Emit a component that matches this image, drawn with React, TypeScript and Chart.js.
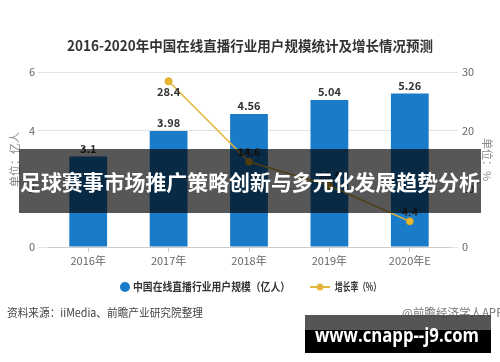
import React, { useEffect, useRef } from "react";
import { Chart, registerables } from "chart.js";

Chart.register(...registerables);

const title = "2016-2020年中国在线直播行业用户规模统计及增长情况预测";
const categories = ["2016年", "2017年", "2018年", "2019年", "2020年E"];
const userScale = [3.1, 3.98, 4.56, 5.04, 5.26];
const growthRate: (number | null)[] = [null, 28.4, 14.6, 10.5, 4.4];
const leftAxis = { min: 0, max: 6, step: 2, title: "单位：亿人" };
const rightAxis = { min: 0, max: 30, step: 10, title: "单位：%" };
const barLabel = "中国在线直播行业用户规模（亿人）";
const lineLabel = "增长率（%）";
const bannerText = "足球赛事市场推广策略创新与多元化发展趋势分析";
const sourceText = "资料来源：iiMedia、前瞻产业研究院整理";
const creditText = "@前瞻经济学人APP";
const watermarkText = "www.cnapp--j9.com";

const FONT = "'Noto Sans CJK SC', 'Noto Sans', sans-serif";
const BAR_COLOR = "#1a7bc8";
const LINE_COLOR = "#e3b63b";

const overlayPlugin = {
  id: "overlay",
  afterDatasetsDraw(chart: any) {
    const ctx = chart.ctx;
    ctx.save();
    // bar labels
    const barMeta = chart.getDatasetMeta(0);
    ctx.fillStyle = "#333";
    ctx.font = `bold 11px ${FONT}`;
    ctx.textAlign = "center";
    ctx.textBaseline = "middle";
    barMeta.data.forEach((el: any, i: number) => {
      ctx.fillText(String(userScale[i]), el.x, el.y - 8);
    });
    // line labels
    const lineMeta = chart.getDatasetMeta(1);
    lineMeta.data.forEach((el: any, i: number) => {
      const v = growthRate[i];
      if (v == null) return;
      const dy = i === 1 ? 10 : -10;
      ctx.fillText(String(v), el.x, el.y + dy);
    });
    ctx.restore();
  },
  afterDraw(chart: any) {
    const ctx = chart.ctx;
    const area = chart.chartArea;
    ctx.save();
    // title
    ctx.fillStyle = "#333";
    ctx.font = `bold 14px ${FONT}`;
    ctx.textAlign = "center";
    ctx.textBaseline = "middle";
    ctx.fillText(title, 250, 46, 366);

    // axis titles
    const midY = (area.top + area.bottom) / 2;
    ctx.fillStyle = "#888";
    ctx.font = `11px ${FONT}`;
    ctx.save();
    ctx.translate(15, midY);
    ctx.rotate(-Math.PI / 2);
    ctx.fillText(leftAxis.title, 0, 0);
    ctx.restore();
    ctx.save();
    ctx.translate(487, midY);
    ctx.rotate(Math.PI / 2);
    ctx.fillText(rightAxis.title, 0, 0);
    ctx.restore();

    // legend
    const ly = 287;
    ctx.fillStyle = BAR_COLOR;
    ctx.beginPath();
    ctx.arc(125, ly, 5, 0, Math.PI * 2);
    ctx.fill();
    ctx.fillStyle = "#333";
    ctx.font = `bold 11px ${FONT}`;
    ctx.textAlign = "left";
    ctx.fillText(barLabel, 133, ly, 157);
    ctx.strokeStyle = LINE_COLOR;
    ctx.lineWidth = 2;
    ctx.beginPath();
    ctx.moveTo(310, ly);
    ctx.lineTo(330, ly);
    ctx.stroke();
    ctx.fillStyle = LINE_COLOR;
    ctx.beginPath();
    ctx.arc(320, ly, 3.5, 0, Math.PI * 2);
    ctx.fill();
    ctx.fillStyle = "#333";
    ctx.fillText(lineLabel, 335, ly, 46);

    // source
    ctx.fillStyle = "#444";
    ctx.font = `11.5px ${FONT}`;
    ctx.fillText(sourceText, 7, 313, 196);
    ctx.fillStyle = "#777";
    ctx.fillText(creditText, 402, 313);

    // banner
    ctx.fillStyle = "rgba(0,0,0,0.66)";
    ctx.fillRect(19, 149, 462, 64);
    ctx.fillStyle = "#fff";
    ctx.font = `bold 21px ${FONT}`;
    ctx.textAlign = "center";
    ctx.fillText(bannerText, 250, 182, 460);

    // watermark box
    ctx.fillStyle = "rgba(70,70,70,0.92)";
    ctx.fillRect(305, 315, 186, 15);
    ctx.fillStyle = "#000";
    ctx.fillRect(305, 330, 186, 23);
    ctx.fillStyle = "#fff";
    ctx.font = `bold 19px 'Open Sans', 'DejaVu Sans', sans-serif`;
    ctx.fillText(watermarkText, 397, 337, 164);
    ctx.restore();
  },
};

export default function App() {
  const ref = useRef<HTMLCanvasElement | null>(null);
  useEffect(() => {
    document.body.style.margin = "0";
    const canvas = ref.current!;
    const chart = new Chart(canvas, {
      type: "bar",
      data: {
        labels: categories,
        datasets: [
          {
            type: "bar",
            label: barLabel,
            data: userScale,
            backgroundColor: BAR_COLOR,
            yAxisID: "y",
            barPercentage: 0.47,
            categoryPercentage: 1,
            order: 2,
          },
          {
            type: "line",
            label: lineLabel,
            data: growthRate,
            borderColor: LINE_COLOR,
            backgroundColor: LINE_COLOR,
            borderWidth: 1.5,
            pointRadius: 3.5,
            pointBackgroundColor: "#e8b72e",
            pointBorderColor: "#d6a524",
            pointBorderWidth: 1,
            yAxisID: "y1",
            order: 1,
          } as any,
        ],
      },
      options: {
        responsive: false,
        animation: false,
        devicePixelRatio: 1,
        layout: { padding: { top: 72, bottom: 90, left: 0, right: 0 } },
        plugins: {
          legend: { display: false },
          title: { display: false },
          tooltip: { enabled: false },
        },
        scales: {
          x: {
            grid: {
              offset: false,
              drawOnChartArea: false,
              tickLength: 5,
              color: "#ccc",
            },
            border: { display: true, color: "#ccc" },
            ticks: { color: "#666", font: { size: 11, family: FONT }, padding: 2 },
            afterFit(scale: any) {
              scale.height = 25;
            },
          },
          y: {
            position: "left",
            min: leftAxis.min,
            max: leftAxis.max,
            ticks: {
              stepSize: leftAxis.step,
              color: "#666",
              font: { size: 11, family: FONT },
              padding: 3,
            },
            grid: { color: "#e2e2e2", tickLength: 10 },
            border: { display: false },
            afterFit(scale: any) {
              scale.width = 48;
            },
          },
          y1: {
            position: "right",
            min: rightAxis.min,
            max: rightAxis.max,
            ticks: {
              stepSize: rightAxis.step,
              color: "#666",
              font: { size: 11, family: FONT },
              padding: 4,
            },
            grid: { drawOnChartArea: false, color: "#e2e2e2", tickLength: 8 },
            border: { display: false },
            afterFit(scale: any) {
              scale.width = 50;
            },
          },
        },
      },
      plugins: [overlayPlugin],
    });
    return () => chart.destroy();
  }, []);
  return (
    <div style={{ width: 500, height: 362, background: "#fff" }}>
      <canvas ref={ref} width={500} height={362} style={{ display: "block" }} />
    </div>
  );
}
